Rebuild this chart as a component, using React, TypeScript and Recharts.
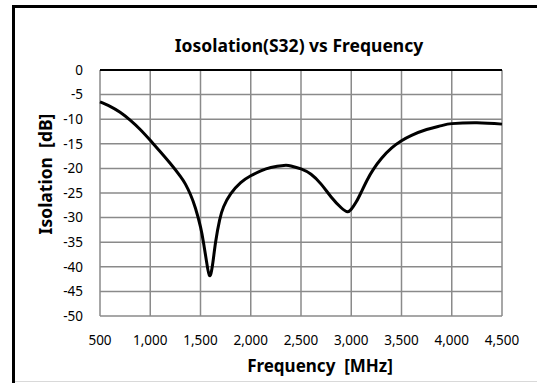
import React from 'react'
import { LineChart, Line, XAxis, YAxis, CartesianGrid, ReferenceLine } from 'recharts'

const frequencies = [
  500, 600, 700, 800, 900, 1000, 1100, 1200, 1300, 1350, 1400, 1450, 1500, 1530, 1560, 1590,
  1620, 1650, 1690, 1730, 1800, 1900, 2000, 2100, 2200, 2330, 2400, 2500, 2600, 2700,
  2800, 2900, 2960, 3000, 3050, 3100, 3160, 3220, 3300, 3400, 3500, 3600, 3750, 3900,
  4000, 4250, 4500,
]
const isolation = [
  -6.5, -7.4, -8.6, -10.2, -12.1, -14.3, -16.6, -19.0, -21.6, -23.2, -25.3, -28.1, -31.9, -35.1, -38.9, -41.8,
  -39.6, -35, -30.5, -27.8, -25.2, -22.9, -21.5, -20.5, -19.8, -19.4, -19.5, -20.1, -21.2, -23.2,
  -25.8, -28.0, -28.8, -28.3, -26.8, -24.8, -22.3, -20.2, -18.0, -15.9, -14.4, -13.3, -12.1, -11.3,
  -10.9, -10.7, -11.0,
]
const xTicks = [500, 1000, 1500, 2000, 2500, 3000, 3500, 4000, 4500]
const yTicks = [0, -5, -10, -15, -20, -25, -30, -35, -40, -45, -50]

const data = frequencies.map((f, i) => ({ freq: f, value: isolation[i] }))

const font = '"Noto Sans", sans-serif'

export default function App() {
  return (
    <div style={{ position: 'fixed', left: 0, top: 0, width: 537, height: 383, background: '#fff', overflow: 'hidden', fontFamily: font }}>
      {/* chart frame: top and left edges, faint bottom edge */}
      <div style={{ position: 'absolute', left: 12, top: 5, width: 525, height: 3, background: '#000' }} />
      <div style={{ position: 'absolute', left: 12, top: 5, width: 3, height: 378, background: '#000' }} />
      <div style={{ position: 'absolute', left: 15, top: 381, width: 522, height: 1, background: '#d9d9d9' }} />
      <div
        style={{
          position: 'absolute',
          left: 99,
          width: 400,
          top: 33,
          textAlign: 'center',
          fontWeight: 700,
          fontSize: 17.5,
          lineHeight: '24px',
          color: '#000',
        }}
      >
        Iosolation(S32) vs Frequency
      </div>
      <div
        style={{
          position: 'absolute',
          left: 45 - 90,
          top: 174 - 12,
          width: 180,
          height: 24,
          lineHeight: '24px',
          textAlign: 'center',
          transform: 'rotate(-90deg)',
          fontWeight: 700,
          fontSize: 17.5,
          whiteSpace: 'pre',
          color: '#000',
        }}
      >
        {'Isolation  [dB]'}
      </div>
      <div
        style={{
          position: 'absolute',
          left: 220,
          width: 200,
          top: 354,
          textAlign: 'center',
          fontWeight: 700,
          fontSize: 17,
          lineHeight: '24px',
          whiteSpace: 'pre',
          color: '#000',
        }}
      >
        {'Frequency  [MHz]'}
      </div>
      <div style={{ position: 'absolute', left: 0, top: 0 }}>
        <LineChart width={537} height={383} data={data} margin={{ top: 70, right: 35, bottom: 27, left: 40 }}>
          <CartesianGrid stroke="#8a8a8a" strokeWidth={1.5} />
          <XAxis
            dataKey="freq"
            type="number"
            domain={[500, 4500]}
            ticks={xTicks}
            tickFormatter={(v: number) => v.toLocaleString('en-US')}
            axisLine={false}
            tickLine={false}
            tickMargin={13}
            height={40}
            tick={{ fill: '#000', fontSize: 13.5, fontFamily: font }}
          />
          <YAxis
            type="number"
            domain={[-50, 0]}
            ticks={yTicks}
            axisLine={false}
            tickLine={false}
            tickMargin={11}
            width={60}
            tick={{ fill: '#000', fontSize: 13.5, fontFamily: font }}
          />
          <ReferenceLine y={0} stroke="#000" strokeWidth={2} />
          <Line
            type="natural"
            dataKey="value"
            stroke="#000"
            strokeWidth={3}
            dot={false}
            isAnimationActive={false}
          />
        </LineChart>
      </div>
    </div>
  )
}
